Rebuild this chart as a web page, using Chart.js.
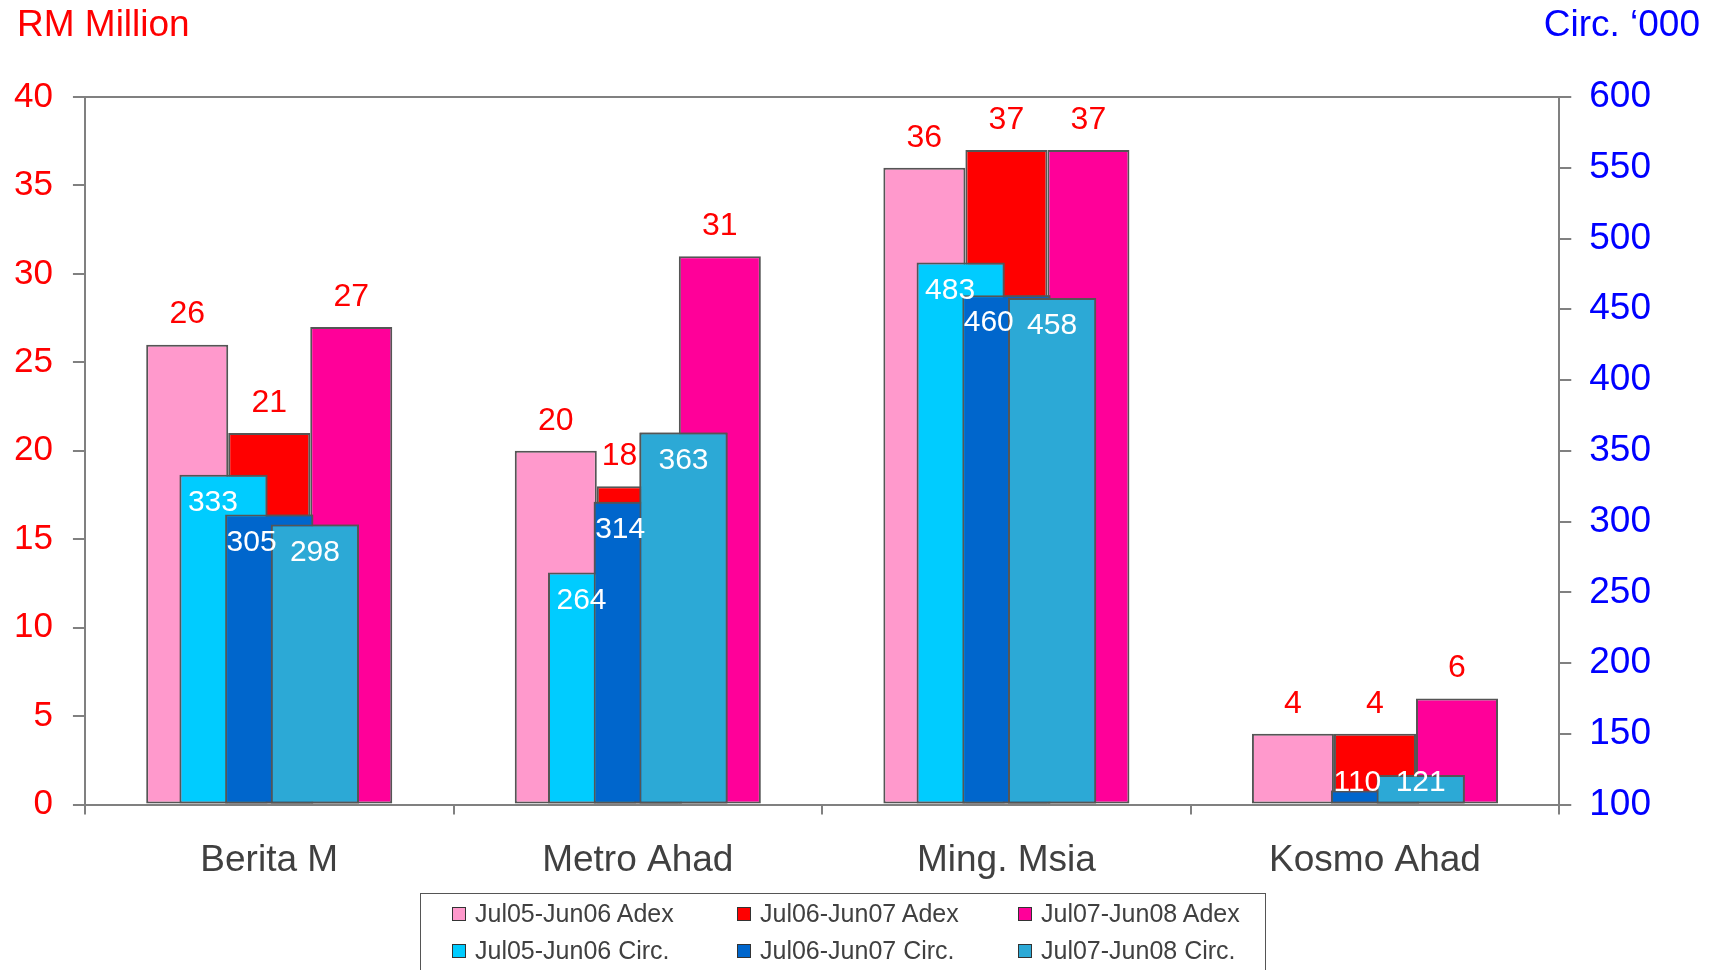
<!DOCTYPE html>
<html>
<head>
<meta charset="utf-8">
<script src="https://cdn.jsdelivr.net/npm/chart.js@4.4.0/dist/chart.umd.min.js"></script>
<style>
	body{ margin:0; background:#fff; overflow:hidden; }
	#contenedor{ position:relative; width:1717px; height:970px; }
	#leyenda{
		position:absolute; left:420px; top:893px; width:846px; height:100px;
		border:1.5px solid #555; box-sizing:border-box;
		display:grid; grid-template-columns:285px 281px 250px; grid-auto-rows:37px;
		padding:1px 0 0 31px;
		font-family:"Liberation Sans", Arial, sans-serif; font-size:25px; color:#404040;
	}
	.item{ display:flex; align-items:center; line-height:37px; }
	.caja{ width:12px; height:12px; border:1px solid #333; margin-right:9px; }
</style>
</head>
<body>
<div id="contenedor">
	<canvas id="grafico" width="1717" height="970"></canvas>
	<div id="leyenda"></div>
</div>
<script>
//Datos
let categorias = ["Berita M", "Metro Ahad", "Ming. Msia", "Kosmo Ahad"];
let series = ["Jul05-Jun06 Adex", "Jul06-Jun07 Adex", "Jul07-Jun08 Adex",
			  "Jul05-Jun06 Circ.", "Jul06-Jun07 Circ.", "Jul07-Jun08 Circ."];
let adex0506 = [26, 20, 36, 4];
let adex0607 = [21, 18, 37, 4];
let adex0708 = [27, 31, 37, 6];
let circ0506 = [333, 264, 483, null];
let circ0607 = [305, 314, 460, 110];
let circ0708 = [298, 363, 458, 121];
let ejeRM = {min: 0, max: 40, paso: 5};
let ejeCirc = {min: 100, max: 600, paso: 50};
let tituloIzq = "RM Million";
let tituloDer = "Circ. \u2018000";

let colores = ["#FF99CC", "#FF0000", "#FF0099", "#00CCFF", "#0066CC", "#2CA9D6"];
let gris = "#808080";
let fuente = "'Liberation Sans', Arial, sans-serif";
Chart.defaults.font.family = fuente;

//Corrimiento horizontal de las etiquetas de circulacion (fraccion del ancho)
let corrimientoCirc = [-0.12, -0.2, 0];

let datosSeries = [adex0506, adex0607, adex0708, circ0506, circ0607, circ0708];
let datasets = datosSeries.map((datos, i) => {
	let esAdex = i < 3;
	let conjunto = {
		label: series[i],
		data: datos,
		backgroundColor: colores[i],
		borderColor: "#555555",
		borderWidth: 2,
		borderSkipped: false,
		yAxisID: esAdex ? "y" : "y2",
		//mismo nombre de grupo => Adex y Circ comparten la posicion dentro de la categoria
		stack: "p" + (i % 3),
		order: esAdex ? 2 : 1,
		categoryPercentage: esAdex ? 0.6676 : 0.372,
		barPercentage: esAdex ? 1 : 1.93
	};
	if(!esAdex){
		conjunto.base = ejeCirc.min;
	}
	return conjunto;
});

const extras = {
	id: "extras",
	afterDatasetsDraw: function(chart){
		//Se redibujan las barras de circulacion para que la ultima quede encima
		chart.getDatasetMeta(4).controller.draw();
		chart.getDatasetMeta(5).controller.draw();

		let ctx = chart.ctx;
		let abajo = chart.chartArea.bottom;
		ctx.save();
		ctx.font = "32px " + fuente;
		ctx.textAlign = "center";
		ctx.textBaseline = "middle";

		let rectsCirc = [];
		[3, 4, 5].forEach(i => {
			chart.getDatasetMeta(i).data.forEach((barra, j) => {
				if(datosSeries[i][j] == null) return;
				rectsCirc.push({l: barra.x - barra.width/2, r: barra.x + barra.width/2, t: barra.y});
			});
		});

		//Etiquetas de Adex sobre las barras
		[0, 1, 2].forEach(i => {
			chart.getDatasetMeta(i).data.forEach((barra, j) => {
				let texto = String(datosSeries[i][j]);
				let ancho = ctx.measureText(texto).width;
				let x = barra.x;
				let y = barra.y - 30;
				rectsCirc.forEach(rc => {
					if(rc.t < y + 16 && rc.l < x + ancho/2 && rc.r > x - ancho/2 && rc.l > x - ancho/2){
						x = rc.l - ancho/2 - 2;
					}
				});
				ctx.fillStyle = "#FF0000";
				ctx.fillText(texto, x, y);
			});
		});

		//Etiquetas de circulacion dentro de las barras
		ctx.font = "30px " + fuente;
		[3, 4, 5].forEach(i => {
			chart.getDatasetMeta(i).data.forEach((barra, j) => {
				if(datosSeries[i][j] == null) return;
				let x = barra.x + corrimientoCirc[i-3] * barra.width;
				let y = Math.min(barra.y + 28, abajo - 22);
				ctx.fillStyle = "#FFFFFF";
				ctx.fillText(String(datosSeries[i][j]), x, y);
			});
		});

		//Titulos de los ejes
		ctx.font = "37px " + fuente;
		ctx.textAlign = "left";
		ctx.fillStyle = "#FF0000";
		ctx.fillText(tituloIzq, 17, 26);
		ctx.textAlign = "right";
		ctx.fillStyle = "#0000FF";
		ctx.fillText(tituloDer, 1700, 26);
		ctx.restore();
	}
};

new Chart("grafico", {
	type: "bar",
	data: {
		labels: categorias,
		datasets: datasets
	},
	options: {
		responsive: false,
		animation: false,
		layout: {padding: {top: 97, left: -6, right: 48, bottom: 63}},
		plugins: {legend: {display: false}, tooltip: {enabled: false}},
		scales: {
			x: {
				type: "category",
				offset: true,
				grid: {offset: true, drawOnChartArea: false, tickLength: 10, color: gris, lineWidth: 2},
				border: {color: gris, width: 2},
				ticks: {color: "#404040", font: {size: 37}, padding: 24}
			},
			y: {
				position: "left",
				stacked: false,
				min: ejeRM.min, max: ejeRM.max,
				ticks: {stepSize: ejeRM.paso, color: "#FF0000", font: {size: 35}, padding: 20},
				grid: {
					color: c => (c.tick && c.tick.value === ejeRM.max) ? gris : "transparent",
					tickColor: gris, tickLength: 12, lineWidth: 2
				},
				border: {color: gris, width: 2}
			},
			y2: {
				position: "right",
				stacked: false,
				min: ejeCirc.min, max: ejeCirc.max,
				ticks: {stepSize: ejeCirc.paso, color: "#0000FF", font: {size: 37}, padding: 18},
				grid: {drawOnChartArea: false, color: gris, tickColor: gris, tickLength: 12, lineWidth: 2},
				border: {color: gris, width: 2}
			}
		}
	},
	plugins: [extras]
});

//Leyenda en HTML
let leyenda = document.getElementById("leyenda");
series.forEach((nombre, i) => {
	let item = document.createElement("div");
	item.className = "item";
	item.innerHTML = '<span class="caja" style="background:' + colores[i] + '"></span>' + nombre;
	leyenda.appendChild(item);
});
</script>
</body>
</html>
